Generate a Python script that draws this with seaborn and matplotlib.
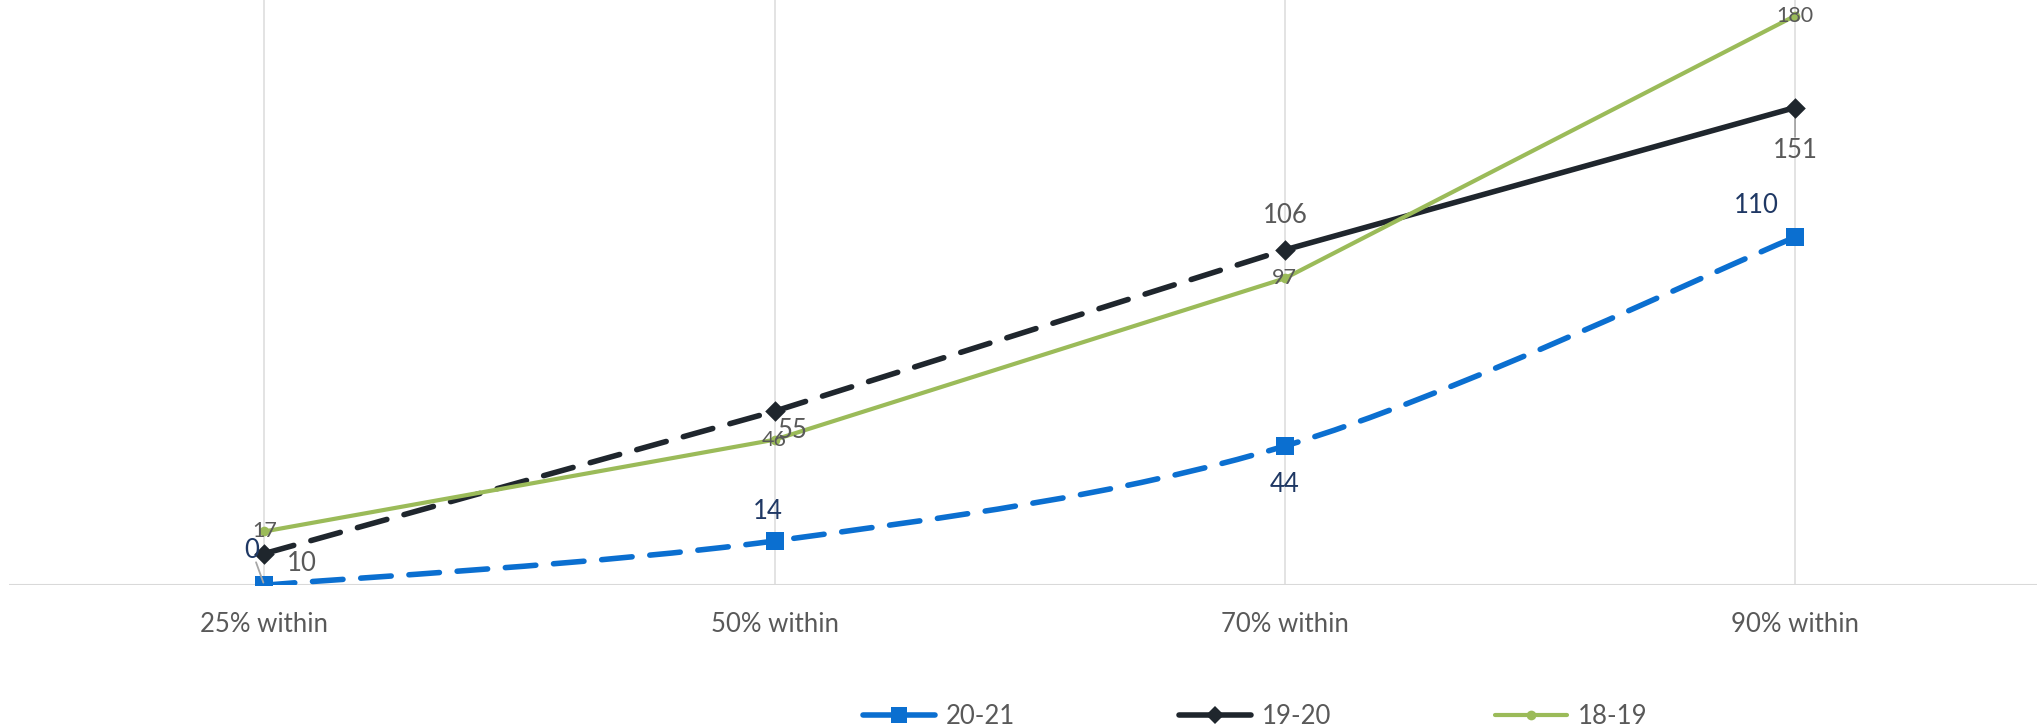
import matplotlib
matplotlib.use("Agg")
import matplotlib.pyplot as plt
from matplotlib.path import Path
from matplotlib.patches import PathPatch
from matplotlib.lines import Line2D
import seaborn as sns
import pandas as pd
import numpy as np

categories = ["25% within", "50% within", "70% within", "90% within"]
s2021 = [0, 14, 44, 110]
s1920 = [10, 55, 106, 151]
s1819 = [17, 46, 97, 180]

blue = "#0B6FD0"
black = "#1F262D"
green = "#9BBB59"
grey_txt = "#595959"
navy_txt = "#1F3864"

df = pd.DataFrame({"pos": np.arange(len(categories)),
                   "20-21": s2021, "19-20": s1920, "18-19": s1819})

sns.set_style("white")
plt.rcParams['font.family'] = ['Lato', 'DejaVu Sans']

fig = plt.figure(figsize=(20.41, 7.27), dpi=100)
ax = fig.add_axes([0.0045, 0.195, 0.9935, 0.805])


def smooth_path(xs, ys):
    # excel-like smoothed line (catmull-rom as bezier)
    pts = np.column_stack([xs, ys]).astype(float)
    verts = [pts[0]]
    codes = [Path.MOVETO]
    n = len(pts)
    for i in range(n - 1):
        p0 = pts[max(i - 1, 0)]
        p1 = pts[i]
        p2 = pts[i + 1]
        p3 = pts[min(i + 2, n - 1)]
        verts += [p1 + (p2 - p0) / 6, p2 - (p3 - p1) / 6, p2]
        codes += [Path.CURVE4] * 3
    return Path(verts, codes)


dash = (0, (5.5, 3.2))

# 20-21 smoothed dashed line
patch = PathPatch(smooth_path(df["pos"], df["20-21"]), fill=False, edgecolor=blue,
                  lw=4, linestyle=dash, capstyle="round", zorder=2)
ax.add_patch(patch)
sns.scatterplot(data=df, x="pos", y="20-21", marker="s", s=170, color=blue,
                linewidth=0, zorder=3, ax=ax)

# 19-20: dashed to 70%, solid to 90%
sns.lineplot(data=df.iloc[:3], x="pos", y="19-20", color=black, lw=4,
             linestyle=dash, dash_capstyle="round", zorder=4, ax=ax)
sns.lineplot(data=df.iloc[2:], x="pos", y="19-20", color=black, lw=4,
             solid_capstyle="round", zorder=4, ax=ax)
sns.scatterplot(data=df, x="pos", y="19-20", marker="D", s=110, color=black,
                linewidth=0, zorder=5, ax=ax)

# 18-19
sns.lineplot(data=df, x="pos", y="18-19", color=green, lw=3, marker="o",
             markersize=7, markeredgewidth=0, zorder=6, ax=ax)

# data labels (offsets in points)
lab_2021 = [(-9, 25), (-5, 21), (0, -28), (-28, 23)]
lab_1920 = [(27, -7), (13, -14), (0, 25), (0, -31)]
lab_1819 = [(0, 0), (0, 0), (0, 0), (0, 0)]

for i, v in enumerate(s2021):
    ax.annotate(str(v), (i, v), xytext=lab_2021[i], textcoords="offset points",
                ha="center", va="center", fontsize=18.5, color=navy_txt, zorder=7)
for i, v in enumerate(s1920):
    ax.annotate(str(v), (i, v), xytext=lab_1920[i], textcoords="offset points",
                ha="center", va="center", fontsize=18.5, color=grey_txt, zorder=7)
for i, v in enumerate(s1819):
    ax.annotate(str(v), (i, v), xytext=lab_1819[i], textcoords="offset points",
                ha="center", va="center", fontsize=15.5, color=grey_txt, zorder=7)

# leader lines
ax.annotate("", (0, s2021[0]), xytext=(-9, 25), textcoords="offset points",
            arrowprops=dict(arrowstyle="-", color="#A6A6A6", lw=1.3, shrinkA=9, shrinkB=2))
ax.annotate("", (3, s1920[3]), xytext=(0, -31), textcoords="offset points",
            arrowprops=dict(arrowstyle="-", color="#A6A6A6", lw=1.3, shrinkA=10, shrinkB=4))

ax.set_xlim(-0.5, 3.474)
ax.set_ylim(0, 185)
ax.set_xticks(df["pos"], categories)
ax.set_yticks([])
ax.set_xlabel("")
ax.set_ylabel("")
ax.grid(axis="x", color="#DEDEDE", lw=1.2)
ax.grid(axis="y", visible=False)
ax.axhline(0, color="#D9D9D9", lw=1.5, zorder=1)
for sp in ax.spines.values():
    sp.set_visible(False)
ax.tick_params(axis="x", length=0, pad=19, labelsize=18.5, labelcolor=grey_txt)

handles = [
    Line2D([], [], color=blue, lw=4, marker="s", markersize=12, markeredgewidth=0),
    Line2D([], [], color=black, lw=4, marker="D", markersize=9, markeredgewidth=0),
    Line2D([], [], color=green, lw=3, marker="o", markersize=7, markeredgewidth=0),
]
fig.legend(handles, ["20-21", "19-20", "18-19"], loc="lower center",
           bbox_to_anchor=(0.615, -0.035), ncol=3, frameon=False, fontsize=18.5,
           handlelength=2.8, handletextpad=0.4, columnspacing=6.4, labelcolor=grey_txt)

fig.savefig("out.png", dpi=100)
